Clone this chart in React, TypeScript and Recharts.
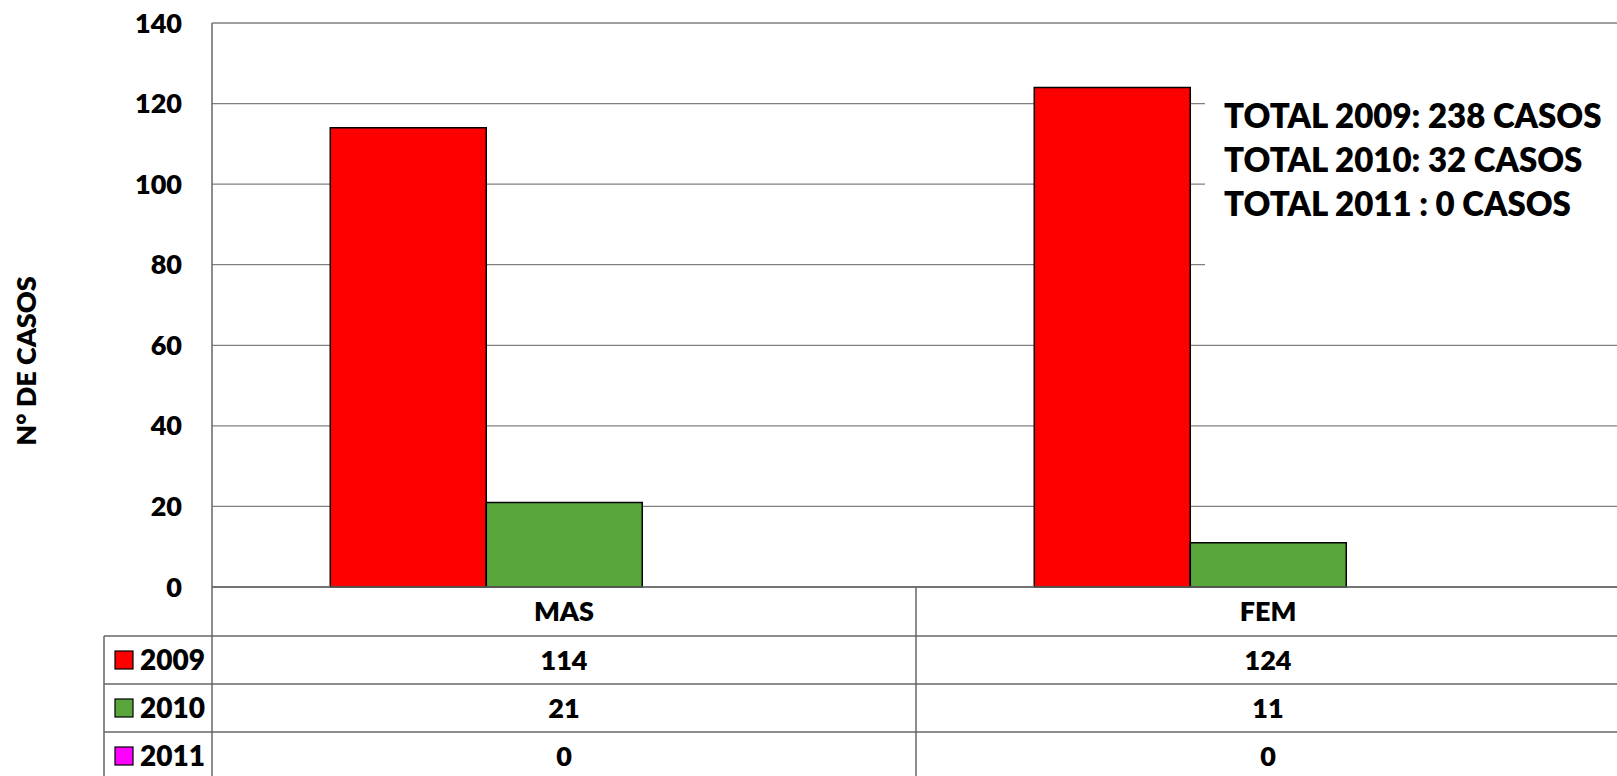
import React from "react";
import { Bar, BarChart, CartesianGrid, XAxis, YAxis } from "recharts";

const categories = ["MAS", "FEM"];
const years = ["2009", "2010", "2011"];
const values2009 = [114, 124];
const values2010 = [21, 11];
const values2011 = [0, 0];
const yearColors = ["#FF0000", "#58A63C", "#FF00FF"];
const yTicks = [0, 20, 40, 60, 80, 100, 120, 140];
const totals = ["TOTAL 2009: 238 CASOS", "TOTAL 2010: 32 CASOS", "TOTAL 2011 : 0 CASOS"];
const yLabel = "N° DE CASOS";

const series = [values2009, values2010, values2011];
const data = categories.map((cat, i) => ({
  cat,
  y2009: values2009[i],
  y2010: values2010[i],
  y2011: values2011[i],
}));

const FONT = "Lato, 'Open Sans', sans-serif";
const FS = 27;
const FW = 800;
const LINE = "#666666";
const HEADER_H = 49;
const ROW_H = 48;
const LEGEND_W = 108;

function TableTick(props: any) {
  const { x, y, payload, index } = props;
  const half = props.width ? props.width / categories.length / 2 : 352;
  const i = categories.indexOf(payload.value);
  const left = x - half;
  const right = x + half;
  const bottom = y + HEADER_H + ROW_H * years.length + 10;
  return (
    <g>
      {index === 0 ? (
        <g>
          <line x1={left} x2={left} y1={y} y2={bottom} stroke={LINE} strokeWidth={1.5} />
          <line
            x1={left - LEGEND_W}
            x2={left - LEGEND_W}
            y1={y + HEADER_H}
            y2={bottom}
            stroke={LINE}
            strokeWidth={1.5}
          />
          {years.map((yr, r) => {
            const top = y + HEADER_H + r * ROW_H;
            return (
              <g key={yr}>
                <line x1={left - LEGEND_W} x2={left} y1={top} y2={top} stroke={LINE} strokeWidth={1.5} />
                <rect
                  x={left - LEGEND_W + 11}
                  y={top + ROW_H / 2 - 9}
                  width={18}
                  height={18}
                  fill={yearColors[r]}
                  stroke="#000"
                  strokeWidth={1.2}
                />
                <text
                  x={left - LEGEND_W + 36}
                  y={top + ROW_H / 2}
                  dy="0.36em"
                  fontFamily={FONT}
                  fontSize={FS + 1}
                  fontWeight={FW}
                  fill="#000"
                >
                  {yr}
                </text>
              </g>
            );
          })}
        </g>
      ) : null}
      <line x1={right} x2={right} y1={y} y2={bottom} stroke={LINE} strokeWidth={1.5} />
      <text
        x={x}
        y={y + HEADER_H / 2}
        dy="0.36em"
        textAnchor="middle"
        fontFamily={FONT}
        fontSize={FS}
        fontWeight={FW}
        fill="#000"
      >
        {payload.value}
      </text>
      {series.map((vals, r) => {
        const top = y + HEADER_H + r * ROW_H;
        return (
          <g key={r}>
            <line x1={left} x2={right} y1={top} y2={top} stroke={LINE} strokeWidth={1.5} />
            <text
              x={x}
              y={top + ROW_H / 2}
              dy="0.36em"
              textAnchor="middle"
              fontFamily={FONT}
              fontSize={FS}
              fontWeight={FW}
              fill="#000"
            >
              {vals[i]}
            </text>
          </g>
        );
      })}
    </g>
  );
}

export default function App() {
  return (
    <div
      style={{
        position: "absolute",
        left: 0,
        top: 0,
        width: 1617,
        height: 776,
        overflow: "hidden",
        background: "#fff",
      }}
    >
      <BarChart
        width={1640}
        height={800}
        data={data}
        margin={{ top: 23, right: 20, bottom: 0, left: 0 }}
        barCategoryGap="16.8%"
        barGap={0}
      >
        <CartesianGrid vertical={false} stroke="#808080" strokeWidth={1.3} />
        <XAxis
          dataKey="cat"
          height={213}
          tickSize={0}
          tickMargin={0}
          tickLine={false}
          axisLine={{ stroke: LINE, strokeWidth: 1.5 }}
          tick={<TableTick />}
          interval={0}
        />
        <YAxis
          type="number"
          width={212}
          domain={[0, 140]}
          ticks={yTicks}
          interval={0}
          tickSize={0}
          tickMargin={30}
          tickLine={false}
          axisLine={{ stroke: LINE, strokeWidth: 1.5 }}
          tick={{ fill: "#000", fontSize: FS, fontWeight: FW, fontFamily: FONT }}
        />
        {years.map((yr, r) => (
          <Bar
            key={yr}
            dataKey={"y" + yr}
            name={yr}
            fill={yearColors[r]}
            stroke="#000"
            strokeWidth={1.5}
            isAnimationActive={false}
          />
        ))}
      </BarChart>
      <div
        style={{
          position: "absolute",
          left: 25,
          top: 361,
          transform: "translate(-50%, -50%) rotate(-90deg)",
          whiteSpace: "nowrap",
          fontFamily: FONT,
          fontSize: FS,
          fontWeight: FW,
          color: "#000",
        }}
      >
        {yLabel}
      </div>
      <div
        style={{
          position: "absolute",
          left: 1205,
          top: 70,
          width: 420,
          height: 215,
          boxSizing: "border-box",
          paddingTop: 23,
          paddingLeft: 19,
          background: "#fff",
          fontFamily: FONT,
          fontSize: 33,
          fontWeight: FW,
          lineHeight: "44px",
          color: "#000",
          whiteSpace: "nowrap",
        }}
      >
        {totals.map((t) => (
          <div key={t}>{t}</div>
        ))}
      </div>
    </div>
  );
}
